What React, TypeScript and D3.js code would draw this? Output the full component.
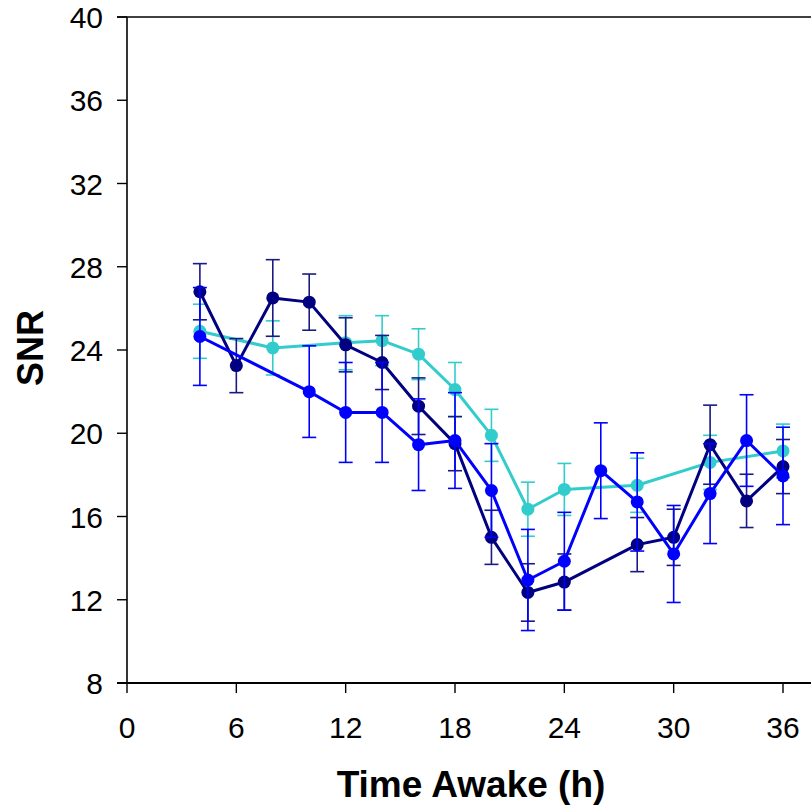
import React from "react";
import * as d3 from "d3";

const cyanTimes = [4, 8, 12, 14, 16, 18, 20, 22, 24, 28, 32, 36];
const cyanValues = [24.9, 24.1, 24.35, 24.45, 23.8, 22.1, 19.9, 16.35, 17.3, 17.5, 18.6, 19.15];
const cyanErrors = [1.3, 1.3, 1.3, 1.2, 1.22, 1.3, 1.25, 1.3, 1.25, 1.3, 1.3, 1.29];

const blueTimes = [4, 10, 12, 14, 16, 18, 20, 22, 24, 26, 28, 30, 32, 34, 36];
const blueValues = [24.65, 22.0, 21.0, 21.0, 19.45, 19.65, 17.25, 12.95, 13.85, 18.2, 16.7, 14.2, 17.1, 19.65, 17.95];
const blueErrors = [2.35, 2.2, 2.4, 2.4, 2.2, 2.3, 2.25, 2.43, 2.35, 2.3, 2.36, 2.33, 2.4, 2.2, 2.34];

const navyTimes = [4, 6, 8, 10, 12, 14, 16, 18, 20, 22, 24, 28, 30, 32, 34, 36];
const navyValues = [26.8, 23.25, 26.5, 26.3, 24.25, 23.4, 21.3, 19.5, 15.0, 12.35, 12.85, 14.65, 15.0, 19.45, 16.75, 18.4];
const navyErrors = [1.35, 1.3, 1.84, 1.35, 1.3, 1.3, 1.36, 1.3, 1.3, 1.38, 1.35, 1.3, 1.35, 1.9, 1.28, 1.3];

const xTicks = [0, 6, 12, 18, 24, 30, 36];
const yTicks = [8, 12, 16, 20, 24, 28, 32, 36, 40];

const xLabel = "Time Awake (h)";
const yLabel = "SNR";

type Pt = { t: number; v: number; e: number };

const build = (ts: number[], vs: number[], es: number[]): Pt[] =>
  ts.map((t, i) => ({ t, v: vs[i], e: es[i] }));

const seriesList = [
  { name: "cyan", color: "#33CCCC", bar: "#33CCCC", data: build(cyanTimes, cyanValues, cyanErrors) },
  { name: "navy", color: "#000080", bar: "#1a1a85", data: build(navyTimes, navyValues, navyErrors) },
  { name: "blue", color: "#0000FF", bar: "#0000FF", data: build(blueTimes, blueValues, blueErrors) },
];

export default function App() {
  const W = 811;
  const H = 806;
  const x = d3.scaleLinear().domain([0, 36]).range([127, 783]);
  const y = d3.scaleLinear().domain([8, 40]).range([683, 17]);
  const line = d3
    .line<Pt>()
    .x((d) => x(d.t))
    .y((d) => y(d.v));
  const font = "'Liberation Sans', Arial, sans-serif";
  const cap = 7;

  return (
    <svg
      width={W}
      height={H}
      style={{ position: "absolute", left: 0, top: 0, background: "#fff" }}
    >
      <rect x={0} y={0} width={W} height={H} fill="#fff" />
      <line x1={117} x2={W} y1={y(40)} y2={y(40)} stroke="#000" strokeWidth={1.6} />
      <line x1={x(0)} x2={x(0)} y1={y(40)} y2={y(8)} stroke="#000" strokeWidth={1.6} />
      <line x1={117} x2={W} y1={y(8)} y2={y(8)} stroke="#000" strokeWidth={1.8} />
      {yTicks.map((t) => (
        <g key={"y" + t}>
          <line x1={117} x2={x(0)} y1={y(t)} y2={y(t)} stroke="#000" strokeWidth={1.4} />
          <text
            x={103}
            y={y(t) + 11}
            textAnchor="end"
            fontFamily={font}
            fontSize={30}
            fill="#000"
          >
            {t}
          </text>
        </g>
      ))}
      {xTicks.map((t) => (
        <g key={"x" + t}>
          <line x1={x(t)} x2={x(t)} y1={y(8)} y2={y(8) + 10} stroke="#000" strokeWidth={1.4} />
          <text
            x={x(t)}
            y={738}
            textAnchor="middle"
            fontFamily={font}
            fontSize={30}
            fill="#000"
          >
            {t}
          </text>
        </g>
      ))}
      <text
        x={471}
        y={797}
        textAnchor="middle"
        fontFamily={font}
        fontSize={37}
        fontWeight="bold"
        fill="#000"
      >
        {xLabel}
      </text>
      <text
        transform={`translate(43,348) rotate(-90)`}
        textAnchor="middle"
        fontFamily={font}
        fontSize={36}
        fontWeight="bold"
        fill="#000"
      >
        {yLabel}
      </text>
      {seriesList.map((s) => (
        <g key={s.name}>
          {s.data.map((d, i) => (
            <g key={"e" + i} stroke={s.bar} strokeWidth={1.6}>
              <line x1={x(d.t)} x2={x(d.t)} y1={y(d.v - d.e)} y2={y(d.v + d.e)} />
              <line x1={x(d.t) - cap} x2={x(d.t) + cap} y1={y(d.v + d.e)} y2={y(d.v + d.e)} />
              <line x1={x(d.t) - cap} x2={x(d.t) + cap} y1={y(d.v - d.e)} y2={y(d.v - d.e)} />
            </g>
          ))}
          <path d={line(s.data) || ""} fill="none" stroke={s.color} strokeWidth={3} strokeLinejoin="round" />
          {s.data.map((d, i) => (
            <circle key={"c" + i} cx={x(d.t)} cy={y(d.v)} r={6.5} fill={s.color} />
          ))}
        </g>
      ))}
    </svg>
  );
}
